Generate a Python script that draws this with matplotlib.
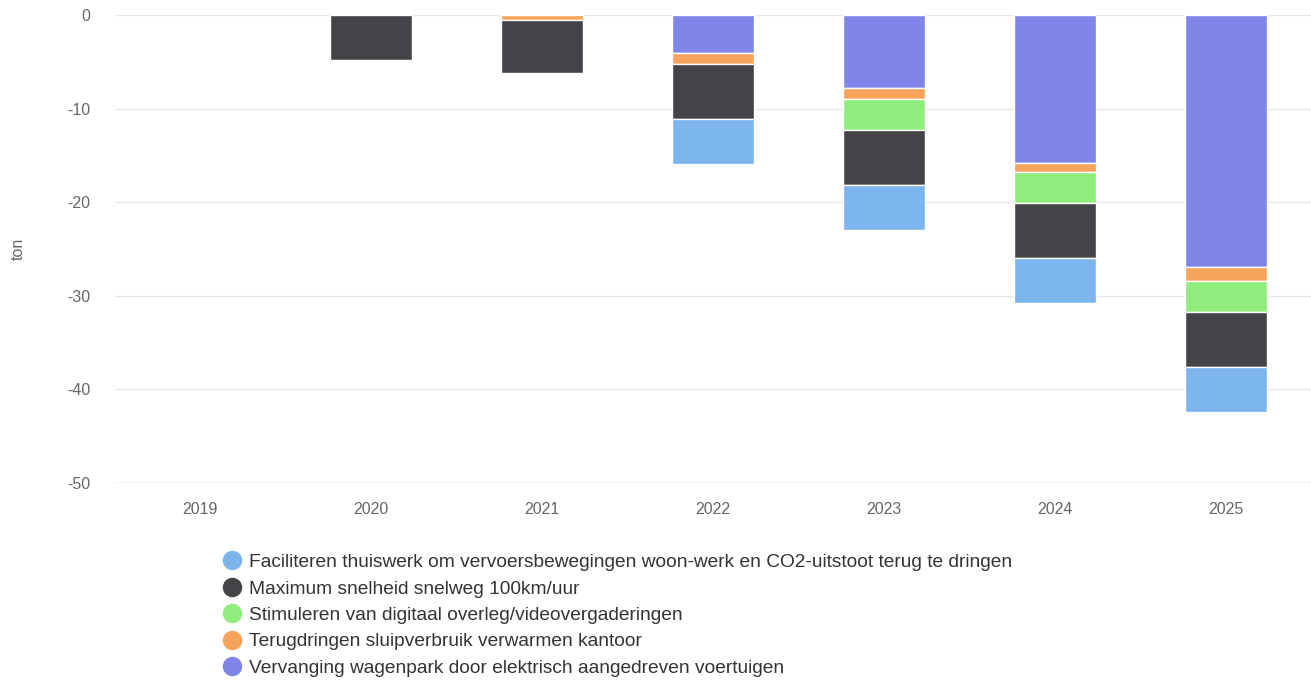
import numpy as np
import matplotlib
matplotlib.use("Agg")
from matplotlib import pyplot as plt
from matplotlib.lines import Line2D

plt.rcParams["font.family"] = ["Liberation Sans", "DejaVu Sans"]
plt.rcParams["axes.unicode_minus"] = False

years = ["2019", "2020", "2021", "2022", "2023", "2024", "2025"]

# tonnes CO2 reduction per measure (negative = reduction)
vervanging = [0, 0, 0, -4.1, -7.8, -15.8, -26.9]
terugdringen = [0, 0, -0.5, -1.1, -1.2, -1.0, -1.5]
stimuleren = [0, 0, 0, 0, -3.3, -3.3, -3.3]
maximum = [0, -4.8, -5.7, -5.9, -5.9, -5.9, -5.9]
faciliteren = [0, 0, 0, -4.8, -4.8, -4.8, -4.8]

labels = [
    "Faciliteren thuiswerk om vervoersbewegingen woon-werk en CO2-uitstoot terug te dringen",
    "Maximum snelheid snelweg 100km/uur",
    "Stimuleren van digitaal overleg/videovergaderingen",
    "Terugdringen sluipverbruik verwarmen kantoor",
    "Vervanging wagenpark door elektrisch aangedreven voertuigen",
]
colors = ["#7cb5ec", "#434348", "#90ed7d", "#f7a35c", "#8085e9"]

# stacked from zero downwards: last series closest to zero
series = [faciliteren, maximum, stimuleren, terugdringen, vervanging]

fig = plt.figure(figsize=(13.11, 6.81), dpi=100)
ax = fig.add_axes([115 / 1311, 1 - 483 / 681, 1 - 115 / 1311, (483 - 15) / 681])

x = np.arange(len(years))
bottom = np.zeros(len(years))
for vals, col in reversed(list(zip(series, colors))):
    vals = np.array(vals, dtype=float)
    keep = vals != 0
    ax.bar(x[keep], vals[keep], width=0.48, bottom=bottom[keep], color=col,
           edgecolor="white", linewidth=1, zorder=3)
    bottom += vals

ax.set_xlim(-0.5, len(years) - 0.5)
ax.set_ylim(-50, 0)
ax.set_yticks(range(-50, 1, 10))
ax.set_xticks(x)
ax.set_xticklabels(years)
ax.grid(axis="y", color="#e6e6e6", linewidth=1, zorder=0)
for s in ["top", "right", "left", "bottom"]:
    ax.spines[s].set_visible(False)
ax.axhline(-50, color="#ccd6eb", linewidth=1, zorder=2)
ax.tick_params(axis="both", length=0, labelsize=11.5, labelcolor="#666666")
ax.tick_params(axis="y", pad=18)
ax.tick_params(axis="x", pad=14)
fig.text(18 / 1311, 1 - 249 / 681, "ton", rotation=90, fontsize=11.5,
         color="#666666", ha="center", va="center")

handles = [Line2D([], [], marker="o", linestyle="", markersize=13,
                  markerfacecolor=c, markeredgecolor=c) for c in colors]
fig.legend(handles, labels, loc="upper left",
           bbox_to_anchor=(214 / 1311, 1 - 546 / 681),
           frameon=False, fontsize=13.8, labelspacing=0.47,
           handletextpad=0.35, borderaxespad=0, handlelength=1.1,
           labelcolor="#333333")

fig.savefig("out.png", dpi=100)
